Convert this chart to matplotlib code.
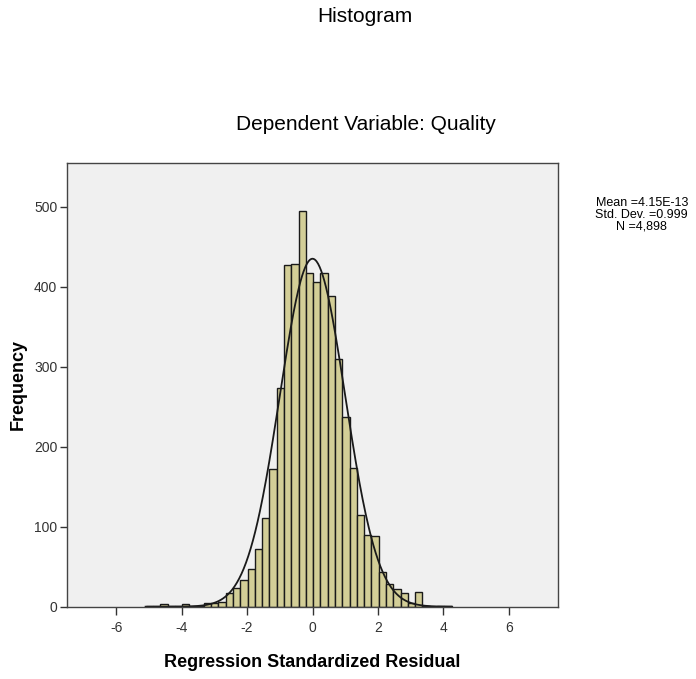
import numpy as np
import matplotlib
matplotlib.use("Agg")
import matplotlib.pyplot as plt

plt.rcParams['font.family'] = ['Liberation Sans', 'DejaVu Sans']

# histogram bins
bin_start = -5.0975
bin_width = 0.2225
counts = [1, 1, 3, 1, 1, 3, 1, 1, 5, 4, 6, 17,
          23, 34, 47, 72, 111, 172, 274, 427, 428, 495, 417,
          406, 417, 388, 310, 237, 173, 115, 90, 88, 44, 29, 22, 17, 4, 18,
          1, 0, 1, 1]

# summary stats shown at the right
mean = 4.15e-13
std = 0.999
n = 4898
data_min = -5.1
data_max = 4.25

x_ticks = [-6, -4, -2, 0, 2, 4, 6]
y_ticks = [0, 100, 200, 300, 400, 500]

fig = plt.figure(figsize=(6.96, 6.79), dpi=100)
ax = fig.add_axes([0.0963, 0.1065, 0.7054, 0.6535])
ax.set_facecolor('#f0f0f0')

lefts = bin_start + bin_width * np.arange(len(counts))
ax.bar(lefts, counts, width=bin_width, align='edge',
       color='#d3ce97', edgecolor='#1a1a1a', linewidth=1.0)

# normal curve
xs = np.linspace(data_min, data_max, 400)
ys = n * bin_width / (std * np.sqrt(2 * np.pi)) * np.exp(-0.5 * ((xs - mean) / std) ** 2)
ax.plot(xs, ys, color='#1a1a1a', linewidth=1.3)

ax.set_xlim(-7.5, 7.5)
ax.set_ylim(0, 555)
ax.set_xticks(x_ticks)
ax.set_xticklabels([str(t) for t in x_ticks])
ax.set_yticks(y_ticks)
ax.tick_params(axis='x', direction='out', length=6, width=1, colors='#333333', labelsize=10, pad=4)
ax.tick_params(axis='y', direction='out', length=5, width=1, colors='#333333', labelsize=10, pad=2)
for s in ax.spines.values():
    s.set_color('#444444')
    s.set_linewidth(1.0)

ax.set_xlabel('Regression Standardized Residual', fontsize=13, fontweight='bold', labelpad=14)
ax.set_ylabel('Frequency', fontsize=13, fontweight='bold', labelpad=5)

fig.text(0.524, 0.976, 'Histogram', ha='center', va='center', fontsize=15)
fig.text(0.526, 0.816, 'Dependent Variable: Quality', ha='center', va='center', fontsize=15)

fig.text(0.922, 1 - 203 / 679, 'Mean =4.15E-13', ha='center', va='center', fontsize=9)
fig.text(0.922, 1 - 215 / 679, 'Std. Dev. =0.999', ha='center', va='center', fontsize=9)
fig.text(0.922, 1 - 227 / 679, 'N =4,898', ha='center', va='center', fontsize=9)

fig.savefig('out.png', dpi=100)
